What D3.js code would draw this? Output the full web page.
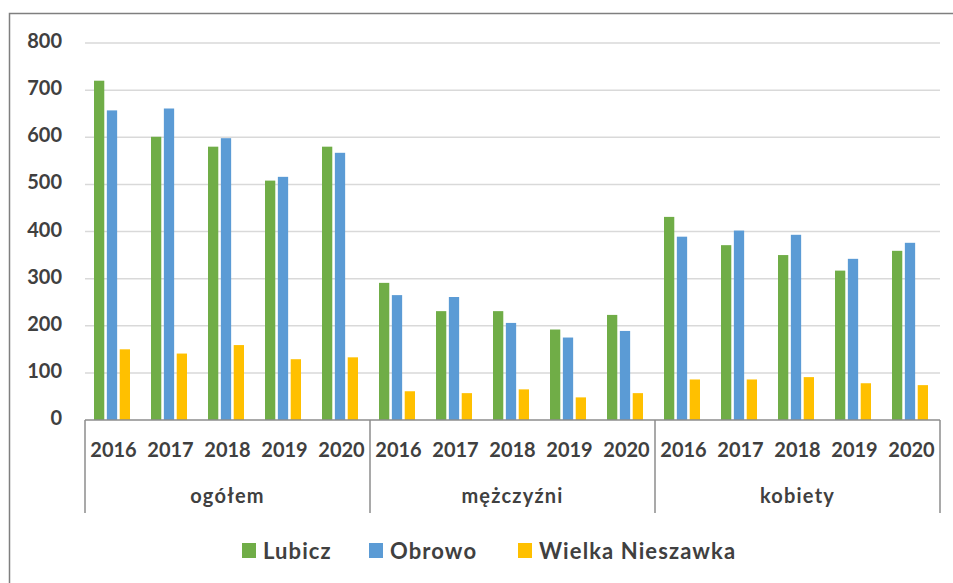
<!DOCTYPE html>
<html>
<head>
<meta charset="utf-8">
<script src="https://cdn.jsdelivr.net/npm/d3@7"></script>
<style>
  body { margin: 0; background: #fff; }
  text { font-family: Lato, "Open Sans", sans-serif; font-weight: bold; fill: #404040; }
</style>
</head>
<body>
<svg id="chart"></svg>
<script>
// chart values
var groups = ["ogółem", "mężczyźni", "kobiety"];
var years = ["2016", "2017", "2018", "2019", "2020"];
var seriesNames = ["Lubicz", "Obrowo", "Wielka Nieszawka"];
var lubicz = [720, 601, 580, 508, 580, 291, 231, 231, 192, 223, 431, 371, 350, 317, 359];
var obrowo = [657, 661, 598, 516, 567, 265, 261, 206, 175, 189, 389, 402, 393, 342, 376];
var wielkaNieszawka = [150, 141, 159, 129, 133, 61, 57, 65, 48, 57, 86, 86, 91, 78, 74];
var yTicks = [0, 100, 200, 300, 400, 500, 600, 700, 800];

function main() {
  var svgWidth = 953;
  var svgHeight = 583;
  var plotLeft = 85;
  var plotRight = 940;
  var plotTop = 43;
  var plotBottom = 420;
  var colors = ["#70AD47", "#5B9BD5", "#FFC000"];
  var seriesValues = [lubicz, obrowo, wielkaNieszawka];

  var svg = d3.select("#chart").attr("width", svgWidth).attr("height", svgHeight);

  // outer frame
  svg.append("rect")
    .attr("x", 9.5).attr("y", 13.5)
    .attr("width", 1000).attr("height", 1000)
    .attr("fill", "none").attr("stroke", "#7f7f7f").attr("stroke-width", 1.5);

  var categories = [];
  groups.forEach(function (g) {
    years.forEach(function (y) { categories.push(g + "|" + y); });
  });

  var x = d3.scaleBand().domain(categories).range([plotLeft, plotRight]).padding(0);
  var y = d3.scaleLinear().domain([0, 800]).range([plotBottom, plotTop]);

  // gridlines
  svg.append("g").selectAll("line")
    .data(yTicks.filter(function (t) { return t > 0; }))
    .enter().append("line")
    .attr("x1", plotLeft).attr("x2", plotRight)
    .attr("y1", function (d) { return y(d); })
    .attr("y2", function (d) { return y(d); })
    .attr("stroke", "#d9d9d9").attr("stroke-width", 1.5);

  // y labels
  svg.append("g").selectAll("text")
    .data(yTicks)
    .enter().append("text")
    .attr("x", 62)
    .attr("y", function (d) { return y(d) + 5; })
    .attr("text-anchor", "end")
    .attr("font-size", 20)
    .text(function (d) { return d; });

  // bars
  var barW = 36;
  var seriesX = d3.scaleBand().domain(d3.range(3)).range([0, barW]).paddingInner(0.2);
  seriesValues.forEach(function (vals, s) {
    svg.append("g").selectAll("rect")
      .data(vals)
      .enter().append("rect")
      .attr("x", function (d, i) {
        return x(categories[i]) + x.bandwidth() / 2 - barW / 2 - 1.5 + seriesX(s);
      })
      .attr("y", function (d) { return y(d); })
      .attr("width", seriesX.bandwidth())
      .attr("height", function (d) { return y(0) - y(d); })
      .attr("fill", colors[s]);
  });

  // x axis line and group separators
  var axisColor = "#8c8c8c";
  svg.append("line")
    .attr("x1", plotLeft).attr("x2", plotRight)
    .attr("y1", plotBottom).attr("y2", plotBottom)
    .attr("stroke", axisColor).attr("stroke-width", 1.5);

  var sepIdx = [0, 5, 10, 15];
  svg.append("g").selectAll("line")
    .data(sepIdx)
    .enter().append("line")
    .attr("x1", function (d) { return plotLeft + d * x.step(); })
    .attr("x2", function (d) { return plotLeft + d * x.step(); })
    .attr("y1", plotBottom).attr("y2", 513)
    .attr("stroke", axisColor).attr("stroke-width", 1.5);

  // year labels
  svg.append("g").selectAll("text")
    .data(categories)
    .enter().append("text")
    .attr("x", function (d) { return x(d) + x.bandwidth() / 2; })
    .attr("y", 457)
    .attr("text-anchor", "middle")
    .attr("font-size", 20)
    .text(function (d) { return d.split("|")[1]; });

  // group labels
  svg.append("g").selectAll("text")
    .data(groups)
    .enter().append("text")
    .attr("x", function (d, i) { return plotLeft + (i * 5 + 2.5) * x.step(); })
    .attr("y", 503)
    .attr("text-anchor", "middle")
    .attr("font-size", 20)
    .attr("letter-spacing", 1.2)
    .text(function (d) { return d; });

  // legend
  var legendX = [242, 369, 518];
  var legend = svg.append("g").selectAll("g")
    .data(seriesNames)
    .enter().append("g")
    .attr("transform", function (d, i) { return "translate(" + legendX[i] + ",543)"; });
  legend.append("rect")
    .attr("width", 14).attr("height", 15)
    .attr("fill", function (d, i) { return colors[i]; });
  legend.append("text")
    .attr("x", 21).attr("y", 16)
    .attr("font-size", 22)
    .attr("letter-spacing", 1.1)
    .text(function (d) { return d; });
}
main();
</script>
</body>
</html>
